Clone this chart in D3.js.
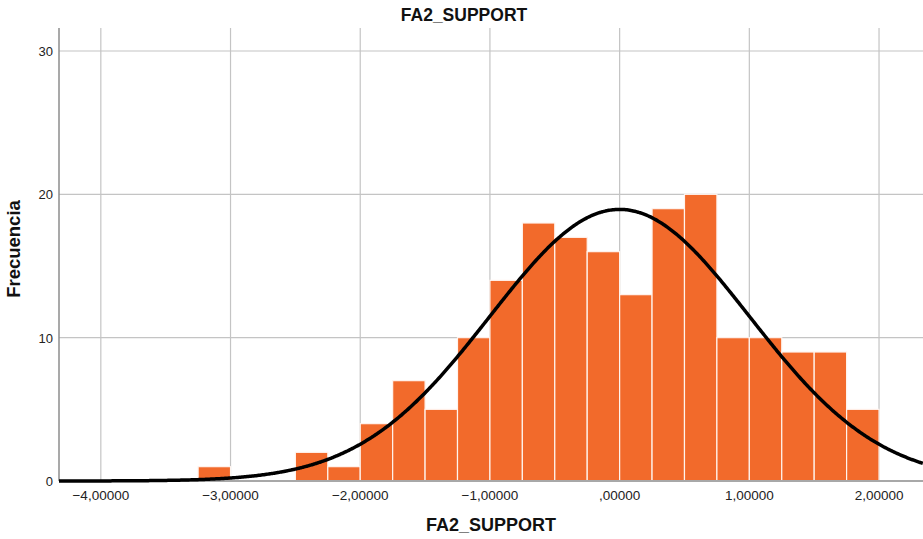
<!DOCTYPE html>
<html><head><meta charset="utf-8">
<script src="https://cdn.jsdelivr.net/npm/d3@7"></script>
<style>body{margin:0;background:#fff}svg{display:block;font-family:"Liberation Sans",Arial,sans-serif}</style>
</head><body>
<script>
// Histogram bins (lower edge), bin width 0.25
const binStarts = [-3.25,-3.0,-2.75,-2.5,-2.25,-2.0,-1.75,-1.5,-1.25,-1.0,-0.75,-0.5,-0.25,0,0.25,0.5,0.75,1.0,1.25,1.5,1.75];
const counts    = [1,0,0,2,1,4,7,5,10,14,18,17,16,13,19,20,10,10,9,9,5];
const binWidth = 0.25;
const xTicks = [-4,-3,-2,-1,0,1,2];
const xTickLabels = ["\u22124,00000","\u22123,00000","\u22122,00000","\u22121,00000",",00000","1,00000","2,00000"];
const yTicks = [0,10,20,30];
const normMean = 0, normSD = 1.0, normN = 190;

const W = 923, H = 539;
const pLeft = 59, pRight = 923, pTop = 28, pBottom = 481;
const svg = d3.select("body").append("svg").attr("width", W).attr("height", H);

const x = d3.scaleLinear().domain([-4.3225, 2.339]).range([pLeft, pRight]);
const y = d3.scaleLinear().domain([0, 30]).range([pBottom, 51]);

// grid
svg.append("g").selectAll("line").data(xTicks).join("line")
  .attr("x1", d => x(d)).attr("x2", d => x(d)).attr("y1", pTop).attr("y2", pBottom)
  .attr("stroke", "#c4c4c4").attr("stroke-width", 1.2);
svg.append("g").selectAll("line").data(yTicks.filter(d => d > 0)).join("line")
  .attr("x1", pLeft).attr("x2", pRight).attr("y1", d => y(d)).attr("y2", d => y(d))
  .attr("stroke", "#c4c4c4").attr("stroke-width", 1.2);

// bars
svg.append("g").selectAll("rect").data(binStarts.map((b, i) => ({b, c: counts[i]})).filter(d => d.c > 0)).join("rect")
  .attr("x", d => x(d.b)).attr("width", d => x(d.b + binWidth) - x(d.b))
  .attr("y", d => y(d.c)).attr("height", d => y(0) - y(d.c))
  .attr("fill", "#f26a2b").attr("stroke", "#fff4ee").attr("stroke-width", 1.2);

// axes
svg.append("line").attr("x1", pLeft).attr("x2", pLeft).attr("y1", pTop).attr("y2", pBottom)
  .attr("stroke", "#8c8c8c").attr("stroke-width", 1.5);
svg.append("line").attr("x1", pLeft).attr("x2", pRight).attr("y1", pBottom).attr("y2", pBottom)
  .attr("stroke", "#a8a8a8").attr("stroke-width", 2);

// normal curve
const pts = d3.range(-4.3225, 2.34, 0.01).map(v => [v, normN * binWidth / (normSD * Math.sqrt(2 * Math.PI)) * Math.exp(-0.5 * ((v - normMean) / normSD) ** 2)]);
svg.append("path").datum(pts)
  .attr("d", d3.line().x(d => x(d[0])).y(d => y(d[1])).curve(d3.curveBasis))
  .attr("fill", "none").attr("stroke", "#000").attr("stroke-width", 3.5);

// tick labels
svg.append("g").selectAll("text").data(xTicks).join("text")
  .attr("x", d => x(d)).attr("y", 500).attr("text-anchor", "middle")
  .attr("font-size", 13.5).attr("fill", "#222").text((d, i) => xTickLabels[i]);
svg.append("g").selectAll("text").data(yTicks).join("text")
  .attr("x", 53).attr("y", d => y(d) + 5).attr("text-anchor", "end")
  .attr("font-size", 13).attr("fill", "#222").text(d => d);

// titles
svg.append("text").attr("x", 464).attr("y", 21).attr("text-anchor", "middle")
  .attr("font-size", 17.5).attr("font-weight", "bold").attr("fill", "#111").text("FA2_SUPPORT");
svg.append("text").attr("x", 491).attr("y", 531).attr("text-anchor", "middle")
  .attr("font-size", 18).attr("font-weight", "bold").attr("fill", "#111").text("FA2_SUPPORT");
svg.append("text").attr("transform", "translate(20,249) rotate(-90)").attr("text-anchor", "middle")
  .attr("font-size", 18.5).attr("font-weight", "bold").attr("fill", "#111").text("Frecuencia");
</script>
</body></html>
